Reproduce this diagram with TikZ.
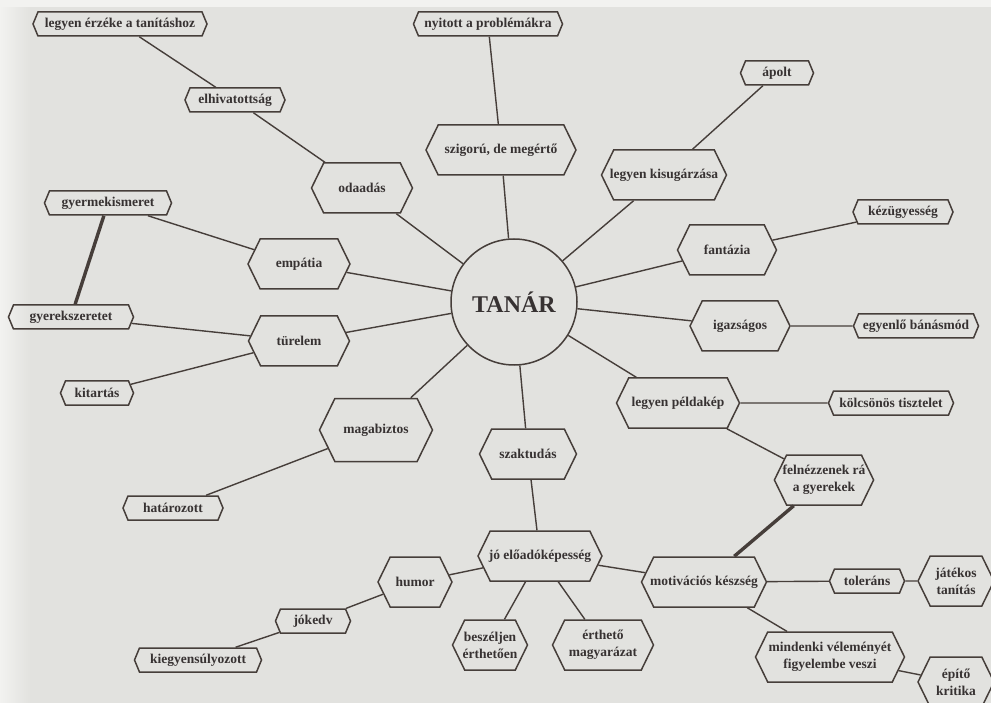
\documentclass[tikz,border=0pt]{standalone}
\usepackage{fontspec}
\setmainfont{Liberation Serif}
\usetikzlibrary{shapes.symbols}
\definecolor{ink}{RGB}{70,62,58}
\definecolor{txt}{RGB}{55,50,50}
\definecolor{paper}{RGB}{226,226,223}
\definecolor{paperlight}{RGB}{242,242,240}
\begin{document}
\begin{tikzpicture}[x=1pt,y=-1pt,
  hexs/.style={signal, signal to=east and west, signal pointer angle=135,
    draw=ink, line width=1.5pt, minimum height=24pt, inner ysep=0pt, inner xsep=-4pt,
    text=txt, font=\fontsize{13.5}{14}\selectfont\bfseries},
  hexb/.style={hexs, signal pointer angle=128, minimum height=50pt,
    align=center, font=\fontsize{13.5}{17}\selectfont\bfseries},
  link/.style={draw=ink, line width=1.4pt},
  heavylink/.style={draw=ink, line width=3.4pt}]
\fill[paper] (0,0) rectangle (991,703);
\shade[left color=paperlight, right color=paper] (0,0) rectangle (30,703);
\fill[paperlight] (0,0) rectangle (991,7);
\useasboundingbox (0,0) rectangle (991,703);

% centre
\node[circle, draw=ink, line width=1.5pt, minimum size=126pt, inner sep=0pt,
  text=txt, font=\fontsize{24}{26}\selectfont\bfseries] (tanar) at (514,302) {TANÁR};

% small nodes
\node[hexs, minimum width=174pt] (erzeke) at (120,24) {legyen érzéke a tanításhoz};
\node[hexs, minimum width=149pt] (nyitott) at (488,24) {nyitott a problémákra};
\node[hexs, minimum width=100pt] (elhiv) at (235,100) {elhivatottság};
\node[hexs, minimum width=127pt] (gyism) at (108,203) {gyermekismeret};
\node[hexs, minimum width=125pt] (gyszer) at (71,317) {gyerekszeretet};
\node[hexs, minimum width=73pt] (kitartas) at (97,393) {kitartás};
\node[hexs, minimum width=100pt] (hataroz) at (173,508) {határozott};
\node[hexs, minimum width=75pt] (jokedv) at (313,621) {jókedv};
\node[hexs, minimum width=127pt] (kiegy) at (198,660) {kiegyensúlyozott};
\node[hexs, minimum width=125pt] (kolcs) at (891,403) {kölcsönös tisztelet};
\node[hexs, minimum width=75pt] (toler) at (867,581) {toleráns};
\node[hexs, minimum width=73pt] (apolt) at (777,73) {ápolt};
\node[hexs, minimum width=100pt] (kezugy) at (903,212) {kézügyesség};
\node[hexs, minimum width=125pt] (egyenlo) at (916,326) {egyenlő bánásmód};

% big nodes
\node[hexb, minimum width=150pt] (szigoru) at (501,150) {szigorú, de megértő};
\node[hexb, minimum width=101pt] (odaadas) at (362,188) {odaadás};
\node[hexb, minimum width=102pt] (empatia) at (299,264) {empátia};
\node[hexb, minimum width=101pt] (turelem) at (299,341) {türelem};
\node[hexb, minimum width=113pt, minimum height=63pt] (magab) at (376,430) {magabiztos};
\node[hexb, minimum width=97pt] (szakt) at (528,454) {szaktudás};
\node[hexb, minimum width=124pt] (joelo) at (540,556) {jó előadóképesség};
\node[hexb, minimum width=74pt] (humor) at (415,582) {humor};
\node[hexb, minimum width=75pt] (beszel) at (490,645) {beszéljen\\érthetően};
\node[hexb, minimum width=101pt] (erthet) at (603,645) {érthető\\magyarázat};
\node[hexb, minimum width=125pt] (motiv) at (704,582) {motivációs készség};
\node[hexb, minimum width=123pt] (peldak) at (678,403) {legyen példakép};
\node[hexb, minimum width=91pt] (felnez) at (824,480) {felnézzenek rá\\a gyerekek};
\node[hexb, minimum width=76pt] (jatekos) at (956,581) {játékos\\tanítás};
\node[hexb, minimum width=149pt] (mindenki) at (830,657) {mindenki véleményét\\figyelembe veszi};
\node[hexb, minimum width=76pt] (epito) at (956,682) {építő\\kritika};
\node[hexb, minimum width=125pt] (kisug) at (664,175) {legyen kisugárzása};
\node[hexb, minimum width=99pt] (fantaz) at (727,250) {fantázia};
\node[hexb, minimum width=100pt] (igazs) at (740,326) {igazságos};

% connectors
\draw[link] (tanar) -- (szigoru);
\draw[link] (szigoru) -- (nyitott);
\draw[link] (tanar) -- (odaadas);
\draw[link] (odaadas) -- (elhiv);
\draw[link] (elhiv) -- (erzeke);
\draw[link] (tanar) -- (empatia);
\draw[link] (empatia) -- (gyism);
\draw[heavylink] (gyism) -- (gyszer);
\draw[link] (tanar) -- (turelem);
\draw[link] (turelem) -- (gyszer);
\draw[link] (turelem) -- (kitartas);
\draw[link] (tanar) -- (magab);
\draw[link] (magab) -- (hataroz);
\draw[link] (tanar) -- (szakt);
\draw[link] (szakt) -- (joelo);
\draw[link] (joelo) -- (humor);
\draw[link] (humor) -- (jokedv);
\draw[link] (jokedv) -- (kiegy);
\draw[link] (joelo) -- (beszel);
\draw[link] (joelo) -- (erthet);
\draw[link] (joelo) -- (motiv);
\draw[heavylink] (motiv) -- (felnez);
\draw[link] (motiv) -- (toler);
\draw[link] (toler) -- (jatekos);
\draw[link] (motiv) -- (mindenki);
\draw[link] (mindenki) -- (epito);
\draw[link] (tanar) -- (peldak);
\draw[link] (peldak) -- (kolcs);
\draw[link] (peldak) -- (felnez);
\draw[link] (tanar) -- (igazs);
\draw[link] (igazs) -- (egyenlo);
\draw[link] (tanar) -- (fantaz);
\draw[link] (fantaz) -- (kezugy);
\draw[link] (tanar) -- (kisug);
\draw[link] (kisug) -- (apolt);
\end{tikzpicture}
\end{document}
